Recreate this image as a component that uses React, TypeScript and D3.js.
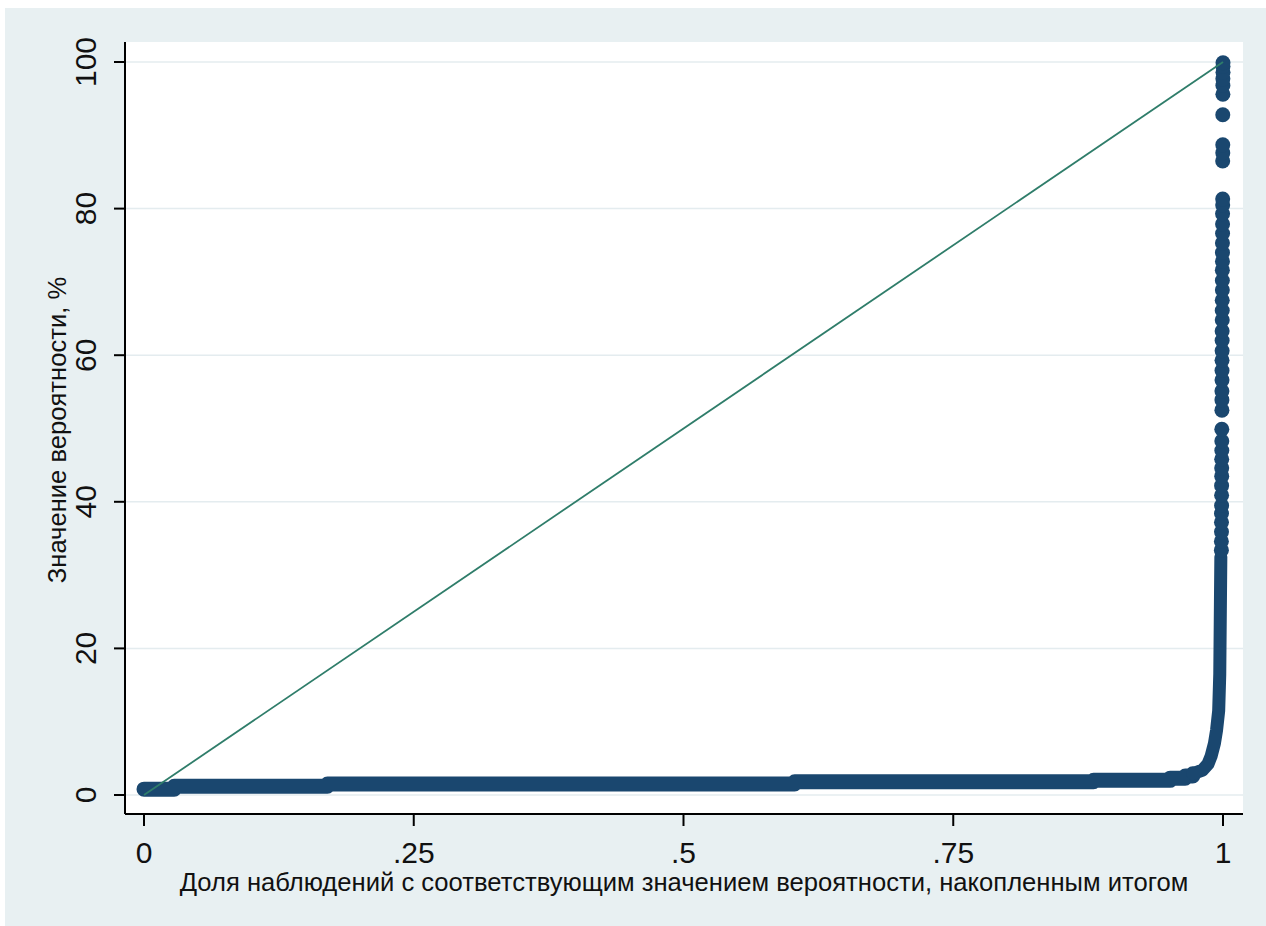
import React from 'react';
import * as d3 from 'd3';

// Axis ticks
const xTickValues = [0, 0.25, 0.5, 0.75, 1];
const xTickLabels = ['0', '.25', '.5', '.75', '1'];
const yTickValues = [0, 20, 40, 60, 80, 100];
const yTickLabels = ['0', '20', '40', '60', '80', '100'];

// Cumulative share of observations where each plateau of probability starts, and its level (%)
const plateauShare = [0, 0.028, 0.17, 0.603, 0.88, 0.951, 0.965];
const plateauValue = [0.8, 1.2, 1.5, 1.8, 2.0, 2.3, 2.6];

// Steep section close to the end of the distribution
const riseShare = [0.972, 0.981, 0.986, 0.989, 0.992, 0.994, 0.996, 0.997, 0.998];
const riseValue = [2.9, 3.4, 4.2, 5.3, 7.0, 8.8, 11.5, 16.5, 32.5];

// Individual high-probability observations
const tailShare = [
  0.9985, 0.9985, 0.9986, 0.9986, 0.9986, 0.9987, 0.9987, 0.9987, 0.9988, 0.9988, 0.9988, 0.9989, 0.9989, 0.9989,
  0.999, 0.999, 0.999, 0.9991, 0.9991, 0.9991, 0.9992, 0.9992, 0.9992, 0.9993, 0.9993, 0.9993, 0.9994, 0.9994,
  0.9994, 0.9995, 0.9995, 0.9995, 0.9996, 0.9996, 0.9996, 0.9997, 0.9997,
  0.9997, 0.9998, 0.9998, 0.9998, 0.9999, 0.9999, 0.9999, 1.0, 1.0, 1.0,
];
const tailValue = [
  33.4, 34.6, 35.9, 37.2, 38.4, 39.5, 40.9, 42.2, 43.5, 44.6, 45.8, 47.0, 48.3, 49.9,
  52.5, 53.9, 55.1, 56.6, 57.9, 59.3, 60.6, 62.0, 63.3, 64.8, 66.1, 67.5, 68.9, 70.2, 71.6, 72.8, 74.0, 75.3,
  76.6, 77.9, 79.3, 80.5, 81.3,
  86.5, 87.6, 88.7, 92.8, 95.6, 96.8, 97.7, 98.6, 99.4, 99.9,
];

// Equality reference line
const refShare = [0, 1];
const refValue = [0, 100];

const W = 1266;
const H = 926;
const plot = { left: 125, right: 1243, top: 42, bottom: 814 };

const NAVY = '#1a476f';
const TEAL = '#2f7d6a';
const FONT = '"Liberation Sans", Arial, sans-serif';

type Pt = [number, number];

export default function App() {
  const x = d3.scaleLinear().domain([0, 1]).range([144, 1223]);
  const y = d3.scaleLinear().domain([0, 100]).range([795, 62]);

  // plateaus are flat runs of equal values; they join the steep section at its first point
  const plateauPts: Pt[] = [
    ...plateauShare.map((s, i) => [s, plateauValue[i]] as Pt),
    [riseShare[0], riseValue[0]],
  ];
  const risePts: Pt[] = riseShare.map((s, i) => [s, riseValue[i]] as Pt);

  const stepLine = d3
    .line<Pt>()
    .x((d) => x(d[0]))
    .y((d) => y(d[1]))
    .curve(d3.curveStepAfter);
  const riseLine = d3
    .line<Pt>()
    .x((d) => x(d[0]))
    .y((d) => y(d[1]));

  const refLine = d3
    .line<number>()
    .x((d) => x(d))
    .y((_, i) => y(refValue[i]))(refShare);

  const bandWidth = 15;
  const markerR = 7.5;

  return (
    <svg
      width={W}
      height={H}
      style={{ position: 'absolute', left: 0, top: 0, display: 'block' }}
    >
      <rect x={0} y={0} width={W} height={H} fill="#ffffff" />
      <rect x={5} y={8} width={W - 5} height={H - 8} fill="#e8f0f2" />
      <rect
        x={plot.left}
        y={plot.top}
        width={plot.right - plot.left}
        height={plot.bottom - plot.top}
        fill="#ffffff"
      />

      {/* horizontal grid */}
      {yTickValues.map((v) => (
        <line
          key={'g' + v}
          x1={plot.left}
          x2={plot.right}
          y1={y(v)}
          y2={y(v)}
          stroke="#e4ecef"
          strokeWidth={1.5}
        />
      ))}

      {/* dense part of the distribution */}
      <path
        d={stepLine(plateauPts) || ''}
        fill="none"
        stroke={NAVY}
        strokeWidth={bandWidth}
        strokeLinecap="round"
        strokeLinejoin="round"
      />
      <path
        d={riseLine(risePts) || ''}
        fill="none"
        stroke={NAVY}
        strokeWidth={13}
        strokeLinecap="round"
        strokeLinejoin="round"
      />
      {tailValue.map((v, i) => (
        <circle key={'t' + i} cx={x(tailShare[i])} cy={y(v)} r={markerR} fill={NAVY} />
      ))}

      {/* reference diagonal */}
      <path d={refLine || ''} fill="none" stroke={TEAL} strokeWidth={1.8} />

      {/* axes */}
      <line x1={plot.left} x2={plot.left} y1={plot.top} y2={plot.bottom} stroke="#000" strokeWidth={2} />
      <line x1={plot.left} x2={plot.right} y1={plot.bottom} y2={plot.bottom} stroke="#000" strokeWidth={2} />

      {yTickValues.map((v, i) => (
        <g key={'yt' + v}>
          <line x1={plot.left - 11} x2={plot.left} y1={y(v)} y2={y(v)} stroke="#000" strokeWidth={2} />
          <text
            transform={`translate(96,${y(v)}) rotate(-90)`}
            textAnchor="middle"
            fontFamily={FONT}
            fontSize={30}
            fill="#111"
          >
            {yTickLabels[i]}
          </text>
        </g>
      ))}

      {xTickValues.map((v, i) => (
        <g key={'xt' + v}>
          <line x1={x(v)} x2={x(v)} y1={plot.bottom} y2={plot.bottom + 12} stroke="#000" strokeWidth={2} />
          <text x={x(v)} y={863} textAnchor="middle" fontFamily={FONT} fontSize={30} fill="#111">
            {xTickLabels[i]}
          </text>
        </g>
      ))}

      <text
        x={(plot.left + plot.right) / 2}
        y={891}
        textAnchor="middle"
        fontFamily={FONT}
        fontSize={25.6}
        fill="#111"
      >
        Доля наблюдений с соответствующим значением вероятности, накопленным итогом
      </text>
      <text
        transform={`translate(66,${(plot.top + plot.bottom) / 2 + 2}) rotate(-90)`}
        textAnchor="middle"
        fontFamily={FONT}
        fontSize={25.6}
        fill="#111"
      >
        Значение вероятности, %
      </text>
    </svg>
  );
}
